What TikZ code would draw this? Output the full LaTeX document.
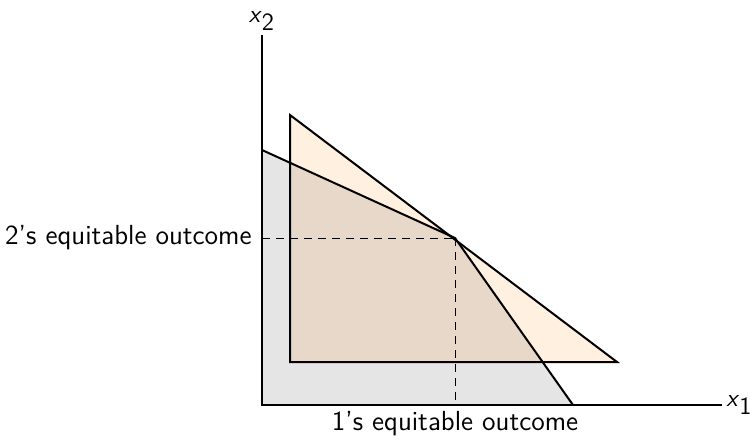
\documentclass[tikz,border=0pt]{standalone}
\usepackage{tikz}
\begin{document}
\begin{tikzpicture}[x=0.5pt,y=-0.5pt,
  every node/.style={font=\sffamily\fontsize{13.8}{16}\selectfont,inner sep=0pt},
  axlabel/.style={font=\sffamily\fontsize{12.4}{15}\selectfont},
  edge/.style={line width=1pt,line join=miter},
  guide/.style={line width=0.5pt,dashed,dash pattern=on 4pt off 3pt}]
\useasboundingbox (0,0) rectangle (750,440);
\coordinate (O) at (262,405);
\coordinate (ytop) at (262,35);
\coordinate (xend) at (722,405);
\coordinate (g1) at (262,150);
\coordinate (E) at (455,238);
\coordinate (g3) at (573,405);
\coordinate (t1) at (290,115);
\coordinate (t2) at (290,362);
\coordinate (t3) at (617,362);
\coordinate (yE) at (262,238);
\coordinate (xE) at (455,405);
% regions
\fill[gray!20] (O) -- (g1) -- (E) -- (g3) -- cycle;
\fill[orange,fill opacity=0.12] (t1) -- (t2) -- (t3) -- cycle;
% dashed guides
\draw[guide] (yE) -- (E);
\draw[guide] (E) -- (xE);
% outlines
\draw[edge] (g1) -- (E) -- (g3);
\draw[edge] (t1) -- (t2) -- (t3) -- cycle;
% axes
\draw[edge] (ytop) -- (O) -- (xend);
% labels
\node[axlabel,anchor=south] (lx2) at ([yshift=2pt]ytop) {$\textsf{\textit{x}}_{\textsf{2}}$};
\node[axlabel,anchor=west] (lx1) at ([xshift=2pt]xend) {$\textsf{\textit{x}}_{\textsf{1}}$};
\node[anchor=east] (l2) at (252,238) {2's equitable outcome};
\node[anchor=center] (l1) at (455,424) {1's equitable outcome};
\end{tikzpicture}
\end{document}
